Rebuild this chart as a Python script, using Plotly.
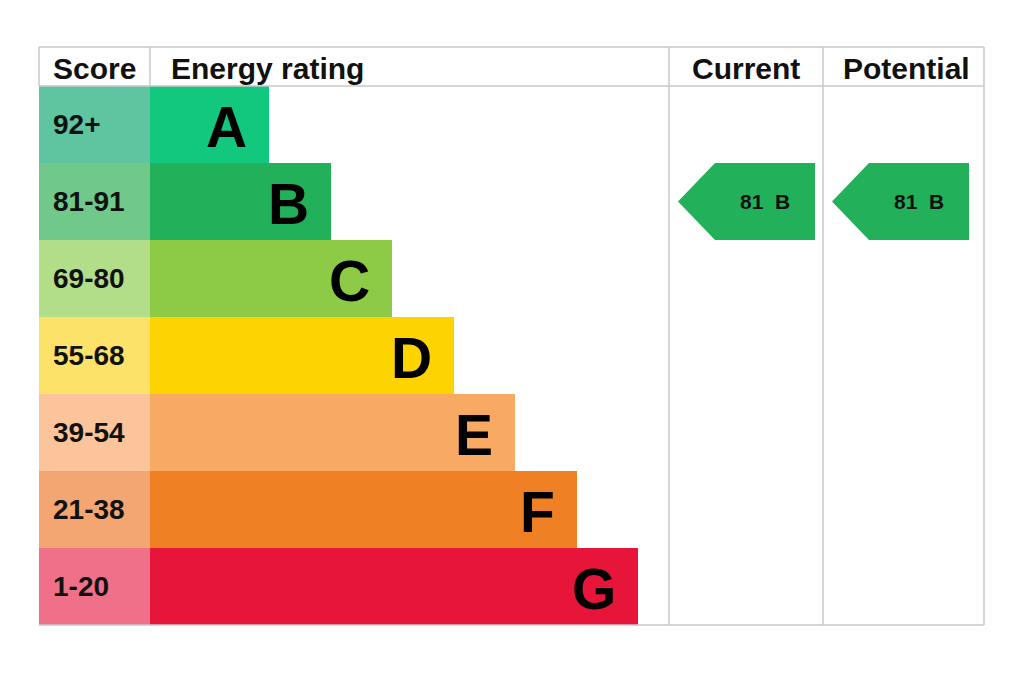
import plotly.graph_objects as go

# ---- data ----
bands = ["A", "B", "C", "D", "E", "F", "G"]
score_ranges = ["92+", "81-91", "69-80", "55-68", "39-54", "21-38", "1-20"]
band_min = [92, 81, 69, 55, 39, 21, 1]
bar_colors = ["#12c87f", "#22b05a", "#8dcb47", "#fdd400", "#f8aa64", "#ef8023", "#e8153b"]
score_colors = ["#5fc4a0", "#70c98b", "#b3de89", "#fde26a", "#fbc49a", "#f3a671", "#f07089"]
headers = ["Score", "Energy rating", "Current", "Potential"]
current_score = 81
potential_score = 81

# ---- layout constants (pixel-like x units, row-unit y) ----
W, H = 1024, 684
X_LEFT, X_SCORE_END, X_CUR, X_POT, X_RIGHT = 39, 150, 669, 823, 984
BAR_MIN, BAR_STEP = 119, 61.5
ROW_PX = 77.0
HEADER_PX = 39.0
TOP_PX = 86.0  # pixel y of first band row top
Y_TOP = -0.5 - HEADER_PX / ROW_PX
Y_BOTTOM = len(bands) - 0.5
Y_RANGE = [len(bands) - 0.5 + (H - TOP_PX - ROW_PX * len(bands)) / ROW_PX, -0.5 - TOP_PX / ROW_PX]

FONT = "Liberation Sans, Arial, Helvetica, sans-serif"
GRID = "#c8c8c8"

rows = list(range(len(bands)))
bar_len = [BAR_MIN + BAR_STEP * i for i in rows]

fig = go.Figure()

# score cells
fig.add_trace(go.Bar(
    orientation="h", y=rows, x=[X_SCORE_END - X_LEFT] * len(rows), base=X_LEFT,
    width=1.0, marker=dict(color=score_colors, line=dict(width=0)), hoverinfo="skip",
))
# rating bars
fig.add_trace(go.Bar(
    orientation="h", y=rows, x=bar_len, base=X_SCORE_END,
    width=1.0, marker=dict(color=bar_colors, line=dict(width=0)), hoverinfo="skip",
))


def band_index(score):
    for i, m in enumerate(band_min):
        if score >= m:
            return i
    return len(bands) - 1


annotations = []

# arrows
for score, col_left in [(current_score, X_CUR), (potential_score, X_POT)]:
    r = band_index(score)
    tip = col_left + 9
    notch = tip + 37
    right = tip + 137
    xs = [tip, notch, right, right, notch, tip]
    ys = [r, r - 0.5, r - 0.5, r + 0.5, r + 0.5, r]
    fig.add_trace(go.Scatter(
        x=xs, y=ys, mode="lines", fill="toself", fillcolor=bar_colors[r],
        line=dict(width=0, color=bar_colors[r]), hoverinfo="skip",
    ))
    annotations.append(dict(
        x=(notch + right) / 2, y=r, text=f"{score}&nbsp;&nbsp;{bands[r]}", showarrow=False,
        xanchor="center", yanchor="middle",
        font=dict(family=FONT, size=21, color="#111111", weight=700),
    ))

# score labels & letters
for i in rows:
    annotations.append(dict(
        x=X_LEFT + 12, y=i, text=score_ranges[i], showarrow=False,
        xanchor="left", yanchor="middle",
        font=dict(family=FONT, size=28, color="#111111", weight=700),
    ))
    annotations.append(dict(
        x=X_SCORE_END + bar_len[i] - 20, y=i + 0.03, text=bands[i], showarrow=False,
        xanchor="right", yanchor="middle",
        font=dict(family=FONT, size=57, color="#000000", weight=700),
    ))

# headers
y_head = (Y_TOP + (-0.5)) / 2 + 0.03
head_pos = [((X_LEFT + X_SCORE_END) / 2, "center"), (X_SCORE_END + 19, "left"),
            ((X_CUR + X_POT) / 2, "center"), ((X_POT + X_RIGHT) / 2 + 3, "center")]
for text, (hx, anchor) in zip(headers, head_pos):
    annotations.append(dict(
        x=hx, y=y_head, text=text, showarrow=False, xanchor=anchor, yanchor="middle",
        font=dict(family=FONT, size=30, color="#111111", weight=700),
    ))

# grid lines
shapes = []
def line(x0, y0, x1, y1):
    shapes.append(dict(type="line", x0=x0, y0=y0, x1=x1, y1=y1, xref="x", yref="y",
                       line=dict(color=GRID, width=1.5), layer="above"))

line(X_LEFT, Y_TOP, X_RIGHT, Y_TOP)
line(X_LEFT, -0.5, X_RIGHT, -0.5)
line(X_LEFT, Y_BOTTOM, X_RIGHT, Y_BOTTOM)
line(X_LEFT, Y_TOP, X_LEFT, -0.5)
line(X_SCORE_END, Y_TOP, X_SCORE_END, -0.5)
for xv in (X_CUR, X_POT, X_RIGHT):
    line(xv, Y_TOP, xv, Y_BOTTOM)

fig.update_layout(
    width=W, height=H, margin=dict(l=0, r=0, t=0, b=0),
    paper_bgcolor="white", plot_bgcolor="white", showlegend=False,
    barmode="overlay", bargap=0,
    xaxis=dict(range=[0, W], visible=False, fixedrange=True),
    yaxis=dict(range=Y_RANGE, visible=False, fixedrange=True),
    annotations=annotations, shapes=shapes,
)

fig.write_html(
    "out.html",
    config={"displayModeBar": False, "staticPlot": True},
    post_script="document.body.style.margin='0';document.body.style.overflow='hidden';",
)
